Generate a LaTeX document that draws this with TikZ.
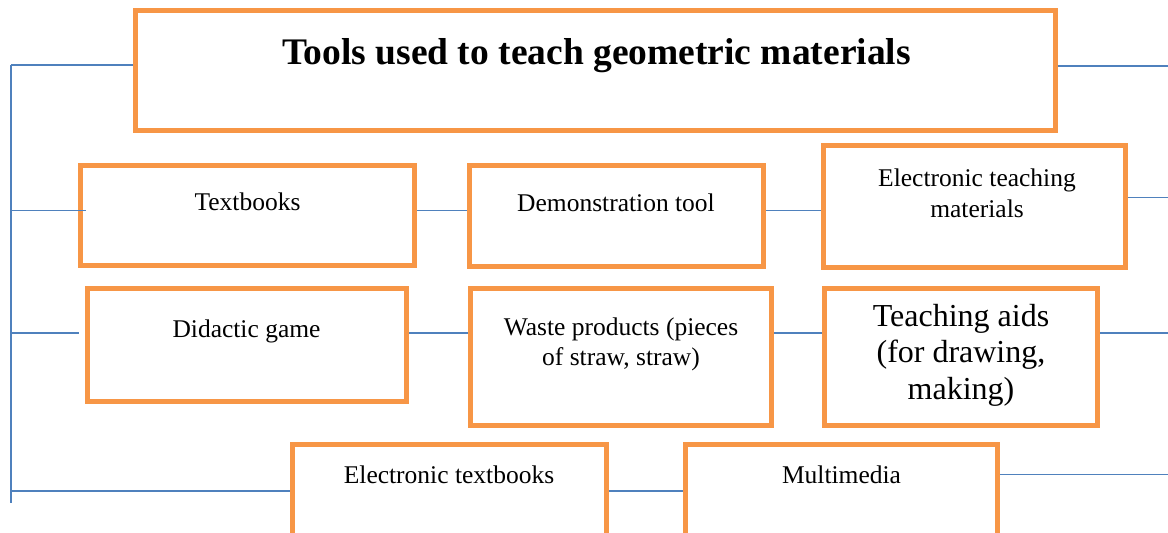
\documentclass[tikz,border=0pt]{standalone}
\usepackage{fontspec}
\setmainfont{Liberation Serif}
\definecolor{boxorange}{HTML}{F79646}
\definecolor{lineblue}{HTML}{4F81BD}
\tikzset{
  box/.style={draw=boxorange, line width=5pt, fill=white, rectangle, inner sep=0pt, outer sep=2.5pt},
  conn/.style={draw=lineblue, line width=1.9pt},
  lbl/.style={inner sep=0pt, align=center, font=\fontsize{25.5}{31}\selectfont},
}
\begin{document}
\begin{tikzpicture}[x=1pt,y=-1pt]
\clip (0,0) rectangle (1168,533);
\fill[white] (0,0) rectangle (1168,533);
% boxes
\node[box, minimum width=920pt, minimum height=120pt] (title) at (595.5,70.5) {};
\node[box, minimum width=334pt, minimum height=100pt] (tb) at (247.5,215.5) {};
\node[box, minimum width=294pt, minimum height=101pt] (demo) at (616.5,216) {};
\node[box, minimum width=302pt, minimum height=122pt] (etm) at (974.5,206.5) {};
\node[box, minimum width=319pt, minimum height=113pt] (dg) at (247,345) {};
\node[box, minimum width=301pt, minimum height=137pt] (waste) at (621,357) {};
\node[box, minimum width=273pt, minimum height=137pt] (aids) at (961,357) {};
\node[box, minimum width=314pt, minimum height=120pt] (etb) at (449.5,504.5) {};
\node[box, minimum width=312pt, minimum height=120pt] (mm) at (841.5,504.5) {};
% texts
\node[lbl, font=\bfseries\fontsize{37.5}{44}\selectfont] (ttitle) at (596.5,55.5) {Tools used to teach geometric materials};
\node[lbl] (ttb) at (247.5,202) {Textbooks};
\node[lbl] (tdemo) at (616,203) {Demonstration tool};
\node[lbl] (tetm) at (977,193) {Electronic teaching\\materials};
\node[lbl] (tdg) at (246.5,331.5) {Didactic game};
\node[lbl, font=\fontsize{25.5}{30}\selectfont] (twaste) at (621,344) {Waste products (pieces\\of straw, straw)};
\node[lbl, font=\fontsize{32}{36.5}\selectfont] (taids) at (961,355) {Teaching aids\\(for drawing,\\making)};
\node[lbl] (tetb) at (449,475) {Electronic textbooks};
\node[lbl] (tmm) at (841.5,475) {Multimedia};
% trunk coordinates
\coordinate (trtop) at (11,65);
\coordinate (trbot) at (11,503);
\coordinate (b1) at (11,210.5);
\coordinate (b1e) at (86,210.5);
\coordinate (b2) at (11,333);
\coordinate (b2e) at (79,333);
\coordinate (b3) at (11,491);
\coordinate (r0) at (1168,66);
\coordinate (r1) at (1168,197.5);
\coordinate (r2) at (1168,333);
\coordinate (r3) at (1168,474.5);
% connectors
\draw[conn] (trtop) -- (trbot);
\draw[conn] (trtop) -- (title.west|-trtop);
\draw[conn] (b1) -- (b1e);
\draw[conn] (b2) -- (b2e);
\draw[conn] (b3) -- (etb.west|-b3);
\draw[conn] (tb.east|-b1) -- (demo.west|-b1);
\draw[conn] (demo.east|-b1) -- (etm.west|-b1);
\draw[conn] (dg.east|-b2) -- (waste.west|-b2);
\draw[conn] (waste.east|-b2) -- (aids.west|-b2);
\draw[conn] (etb.east|-b3) -- (mm.west|-b3);
\draw[conn] (title.east|-r0) -- (r0);
\draw[conn] (etm.east|-r1) -- (r1);
\draw[conn] (aids.east|-r2) -- (r2);
\draw[conn] (mm.east|-r3) -- (r3);
\end{tikzpicture}
\end{document}
